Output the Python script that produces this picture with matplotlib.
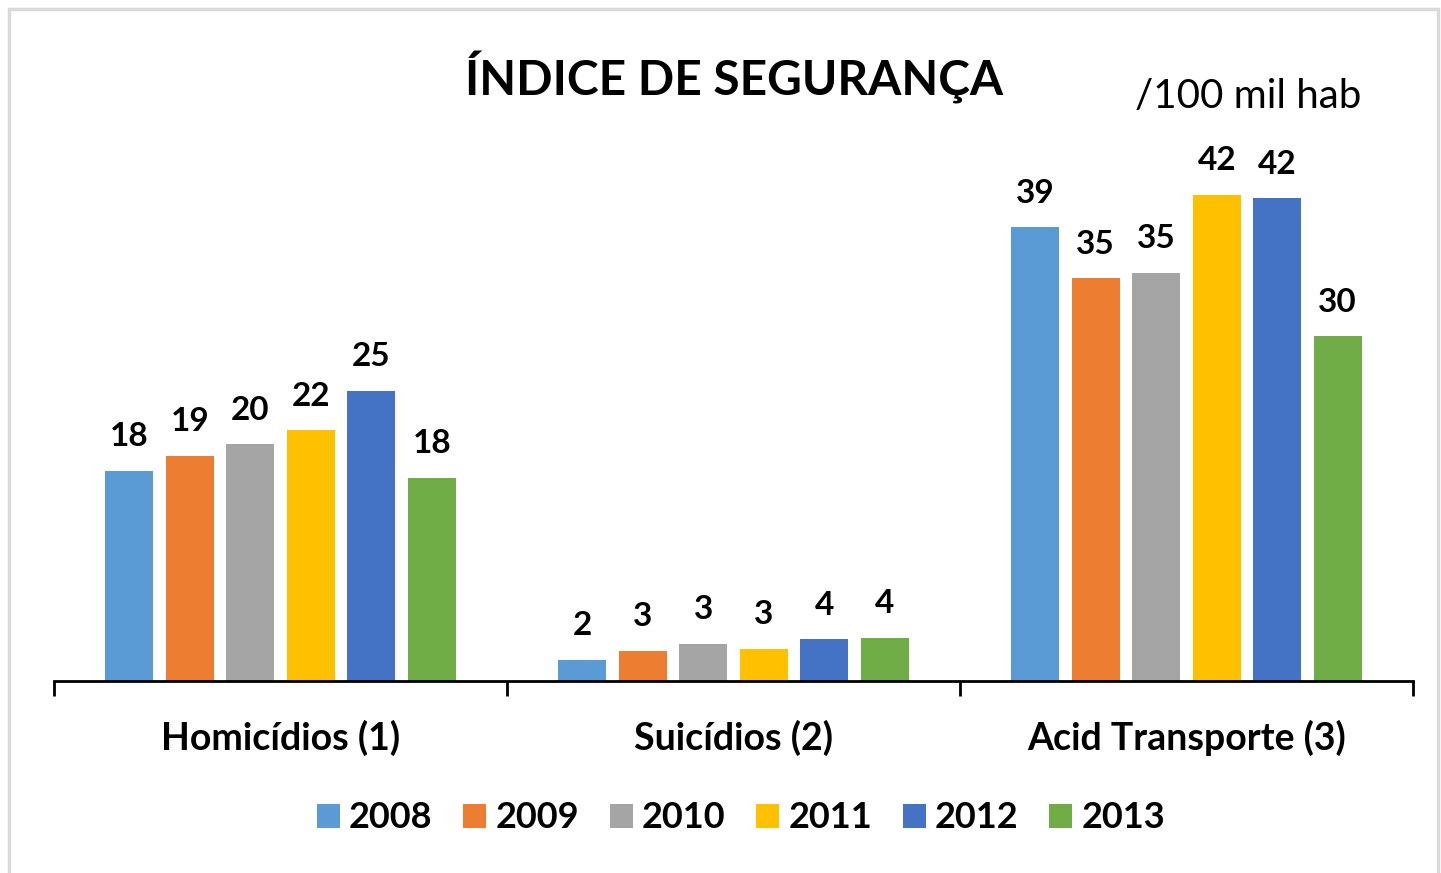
import matplotlib
matplotlib.use("Agg")
import matplotlib.pyplot as plt
from matplotlib.patches import Rectangle
import numpy as np

categories = ["Homicídios (1)", "Suicídios (2)", "Acid Transporte (3)"]
years = ["2008", "2009", "2010", "2011", "2012", "2013"]
v2008 = [18.1, 1.8, 39.1]
v2009 = [19.4, 2.6, 34.7]
v2010 = [20.4, 3.2, 35.2]
v2011 = [21.6, 2.8, 41.9]
v2012 = [25.0, 3.6, 41.6]
v2013 = [17.5, 3.7, 29.7]
series = [v2008, v2009, v2010, v2011, v2012, v2013]
colors = ["#5B9BD5", "#ED7D31", "#A5A5A5", "#FFC000", "#4472C4", "#70AD47"]

plt.rcParams['font.family'] = ['Lato', 'DejaVu Sans']

W, H = 1441, 873
fig = plt.figure(figsize=(W / 100, H / 100), dpi=100)

# light gray frame
fig.patches.append(Rectangle((9 / W, -0.01), (1438 - 9) / W, (H - 9) / H + 0.01,
                             transform=fig.transFigure, fill=False,
                             edgecolor="#D9D9D9", linewidth=2.5))

ax = fig.add_axes([54 / W, (H - 681) / H, (1413 - 54) / W, (681 - 130) / H])
x = np.arange(len(categories))
step = 60.5 / 453
width = 48 / 453
for i, (vals, c, yr) in enumerate(zip(series, colors, years)):
    pos = x + (i - 2.5) * step
    ax.bar(pos, vals, width=width, color=c, label=yr)
    for xp, v in zip(pos, vals):
        ax.text(xp, v + 1.7, f"{round(v):d}", ha="center", va="bottom",
                fontsize=24, fontweight="bold", color="black")

ax.set_xlim(-0.5, 2.5)
ax.set_ylim(0, 47.5)
ax.set_yticks([])
for s in ["top", "right", "left"]:
    ax.spines[s].set_visible(False)
ax.spines["bottom"].set_linewidth(2)
ax.spines["bottom"].set_color("black")
ax.set_xticks(x)
ax.set_xticklabels(categories, fontsize=27, fontweight="bold")
ax.tick_params(axis="x", which="major", length=0, pad=28)
ax.set_xticks([-0.5, 0.5, 1.5, 2.5], minor=True)
ax.tick_params(axis="x", which="minor", length=11, width=2, color="black")

fig.text(734 / W, 1 - 77 / H, "ÍNDICE DE SEGURANÇA", ha="center", va="center",
         fontsize=34.5, fontweight="bold")
fig.text(1248 / W, 1 - 97 / H, "/100 mil hab", ha="center", va="center",
         fontsize=29)

fig.legend(loc="center", bbox_to_anchor=(741 / W, 1 - 818 / H), ncol=6,
           frameon=False, prop={"size": 26, "weight": "bold"},
           handlelength=0.64, handleheight=0.64, handletextpad=0.25,
           columnspacing=0.85)

fig.savefig("out.png", dpi=100)
